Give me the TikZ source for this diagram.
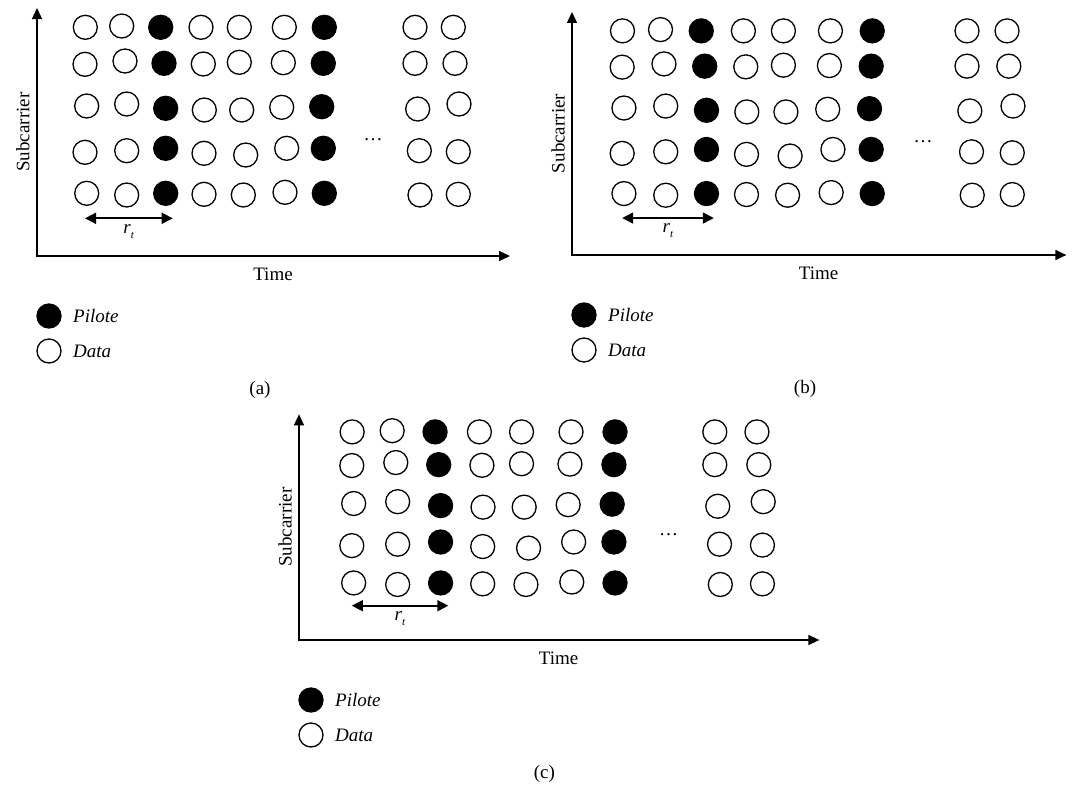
\documentclass[tikz,border=0pt]{standalone}
\usepackage{fontspec}
\setmainfont{Liberation Serif}
\usetikzlibrary{arrows.meta}

\tikzset{
  axes/.style={line width=1.4pt,
    {Triangle[length=11pt,width=10pt]}-{Triangle[length=11pt,width=10pt]}},
  span/.style={line width=1.7pt,
    {Triangle[length=11pt,width=11pt]}-{Triangle[length=11pt,width=11pt]}},
  data/.style={circle, draw, line width=1.3pt, minimum size=24pt, inner sep=0pt},
  pilot/.style={data, fill=black},
  lbl/.style={font=\fontsize{19}{22}\selectfont, inner sep=1pt},
}

% time-frequency grid: x / y / kind, relative to the axis origin
\def\cells{
  48.3/-228.7/data, 84.7/-230/data, 123.7/-228.7/pilot, 164/-228.7/data, 202.3/-228.7/data,
  247.3/-228.7/data, 287.3/-228.7/pilot, 378/-228.7/data, 416.3/-228.7/data,
  48/-191.7/data, 88/-195/data, 127/-192.7/pilot, 166.3/-192/data, 202.3/-193.7/data,
  246.3/-193.3/data, 286.3/-192.7/pilot, 378/-192.7/data, 418/-192.7/data,
  49.7/-150/data, 89.7/-152/data, 128.7/-147.7/pilot, 167.3/-146/data, 204.7/-146/data,
  244.7/-148.7/data, 284.7/-149.3/pilot, 380.7/-147/data, 422/-152/data,
  48/-103.7/data, 89.7/-105.3/data, 128.7/-107.7/pilot, 167/-102.7/data, 208.7/-101/data,
  249.7/-107.7/data, 286.3/-107.7/pilot, 382.3/-105.3/data, 421.3/-104.3/data,
  49.7/-62.7/data, 89.7/-61/data, 128.7/-62.7/pilot, 167/-61.7/data, 206.3/-61/data,
  248/-63.7/data, 287.3/-62.7/pilot, 383/-61/data, 421.3/-61.7/data}

% #1 name, #2 #3 origin, #4 #5 horizontal / vertical stretch
\newcommand\pilotpanel[5]{%
\begin{scope}[shift={(#2,#3)}]
  \begin{scope}[xscale=#4,yscale=#5]
    \coordinate (#1-o) at (0,0);
    \coordinate (#1-ytip) at (0,-248);
    \coordinate (#1-xtip) at (473,0);
    \draw[axes] (#1-ytip) -- (#1-o) -- (#1-xtip);
    \foreach \x/\y/\s [count=\k] in \cells {
      \node[\s] (#1-c\k) at (\x,\y) {};
    }
    \coordinate (#1-ra) at (48,-37.7);
    \coordinate (#1-rb) at (135.7,-37.7);
    \draw[span] (#1-ra) -- node[lbl, yshift=-13pt] (#1-rt)
      {\textit{r}\raisebox{-5pt}{\fontsize{11}{11}\selectfont\textit{t}}} (#1-rb);
    \node[lbl] (#1-dots) at (336,-116) {\dots};
  \end{scope}
  \node[lbl] (#1-time) at ({236*#4},18) {Time};
  \node[lbl, rotate=90] (#1-sub) at (-14,{-124*#5}) {Subcarrier};
  \node[pilot] (#1-kp) at (12,60) {};
  \node[lbl, anchor=west] (#1-kpt) at (35,60) {\textit{Pilote}};
  \node[data] (#1-kd) at (12,95) {};
  \node[lbl, anchor=west] (#1-kdt) at (35,95) {\textit{Data}};
  \node[lbl] (#1-cap) at ({223*#4},134) {(#1)};
\end{scope}}

\begin{document}
\begin{tikzpicture}[x=1pt,y=-1pt]
  \path[use as bounding box] (0,0) rectangle (1072,788);
  \pilotpanel{a}{37}{256}{1}{1}
  \pilotpanel{b}{572}{255}{1.045}{0.98}
  \pilotpanel{c}{299}{640}{1.1}{0.91}
\end{tikzpicture}
\end{document}
